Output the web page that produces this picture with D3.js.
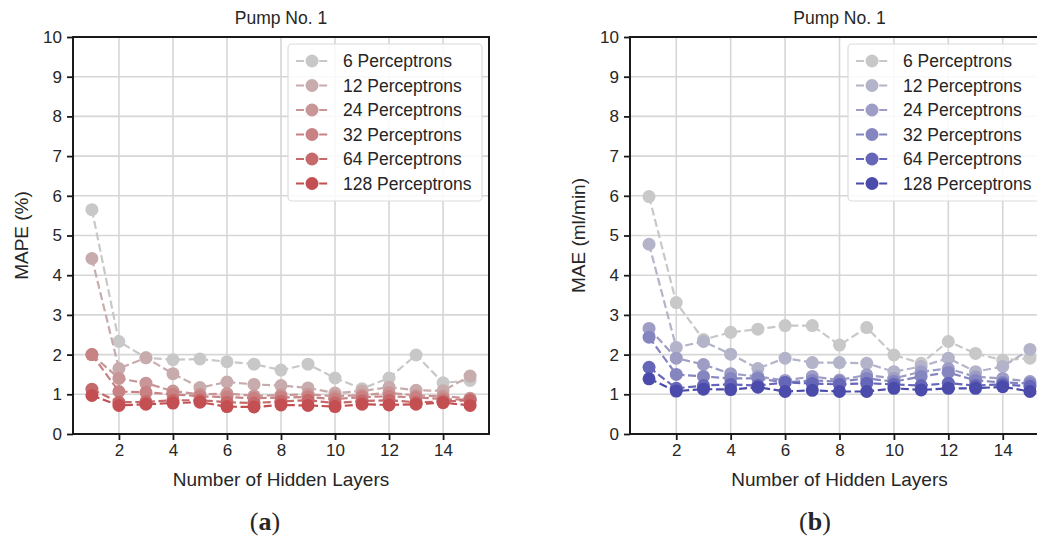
<!DOCTYPE html>
<html>
<head>
<meta charset="utf-8">
<script src="https://cdn.jsdelivr.net/npm/d3@7"></script>
<style>
  html, body { margin: 0; padding: 0; background: #fff; }
  svg { display: block; }
  text { font-family: "Liberation Sans", Arial, sans-serif; fill: #262626; }
</style>
</head>
<body>
<svg id="fig" width="1037" height="538"></svg>
<script>
// Hidden-layer counts on the x axis
const layers = [1, 2, 3, 4, 5, 6, 7, 8, 9, 10, 11, 12, 13, 14, 15];
const seriesNames = ["6 Perceptrons", "12 Perceptrons", "24 Perceptrons",
                     "32 Perceptrons", "64 Perceptrons", "128 Perceptrons"];
const xTicks = [2, 4, 6, 8, 10, 12, 14];
const yTicks = [0, 1, 2, 3, 4, 5, 6, 7, 8, 9, 10];

// MAPE (%) per perceptron count
const mape6   = [5.65, 2.33, 1.92, 1.87, 1.89, 1.82, 1.76, 1.61, 1.76, 1.41, 1.14, 1.41, 1.99, 1.29, 1.35];
const mape12  = [4.42, 1.65, 1.92, 1.52, 1.17, 1.31, 1.25, 1.22, 1.16, 1.03, 1.08, 1.18, 1.10, 1.09, 1.46];
const mape24  = [2.00, 1.40, 1.28, 1.08, 1.00, 1.02, 0.96, 0.98, 1.00, 0.95, 0.98, 1.04, 0.97, 0.95, 0.90];
const mape32  = [2.00, 1.07, 1.05, 1.00, 0.95, 0.93, 0.90, 0.92, 0.93, 0.88, 0.93, 0.95, 0.92, 0.88, 0.86];
const mape64  = [1.13, 0.80, 0.81, 0.85, 0.85, 0.80, 0.78, 0.82, 0.85, 0.78, 0.83, 0.85, 0.80, 0.82, 0.85];
const mape128 = [0.97, 0.72, 0.75, 0.78, 0.80, 0.69, 0.68, 0.73, 0.72, 0.69, 0.75, 0.73, 0.75, 0.79, 0.72];

// MAE (ml/min) per perceptron count
const mae6   = [5.98, 3.31, 2.38, 2.56, 2.64, 2.73, 2.73, 2.24, 2.68, 1.99, 1.78, 2.33, 2.03, 1.86, 1.91];
const mae12  = [4.78, 2.18, 2.33, 2.01, 1.65, 1.91, 1.80, 1.80, 1.78, 1.57, 1.70, 1.91, 1.57, 1.70, 2.13];
const mae24  = [2.66, 1.91, 1.75, 1.52, 1.45, 1.35, 1.45, 1.36, 1.49, 1.40, 1.57, 1.65, 1.44, 1.40, 1.32];
const mae32  = [2.44, 1.50, 1.45, 1.40, 1.40, 1.30, 1.35, 1.32, 1.40, 1.32, 1.45, 1.55, 1.35, 1.30, 1.27];
const mae64  = [1.68, 1.15, 1.22, 1.25, 1.22, 1.30, 1.27, 1.25, 1.28, 1.25, 1.22, 1.28, 1.22, 1.25, 1.20];
const mae128 = [1.39, 1.08, 1.13, 1.12, 1.18, 1.07, 1.10, 1.07, 1.07, 1.15, 1.11, 1.15, 1.15, 1.19, 1.07];

const redColors  = ["#c8c8c8", "#c8abac", "#c99697", "#c98283", "#c6696b", "#c44f53"];
const blueColors = ["#c8c8c8", "#b3b3c9", "#9d9dc5", "#8585c0", "#6666b8", "#4b4bab"];

const svg = d3.select("#fig");

function panel(cfg) {
  const x = d3.scaleLinear().domain([0.3, 15.7]).range([cfg.left, cfg.right]);
  const y = d3.scaleLinear().domain([0, 10]).range([434, 37]);
  const g = svg.append("g");

  // grid
  g.append("g").selectAll("line").data(xTicks).join("line")
    .attr("x1", d => x(d)).attr("x2", d => x(d))
    .attr("y1", y(0)).attr("y2", y(10))
    .attr("stroke", "#d6d6d6").attr("stroke-width", 1.6);
  g.append("g").selectAll("line").data(yTicks).join("line")
    .attr("x1", cfg.left).attr("x2", cfg.right)
    .attr("y1", d => y(d)).attr("y2", d => y(d))
    .attr("stroke", "#d6d6d6").attr("stroke-width", 1.6);

  // series
  const line = d3.line().x((d, i) => x(layers[i])).y(d => y(d));
  cfg.series.forEach((vals, k) => {
    const s = g.append("g");
    s.append("path").datum(vals).attr("d", line)
      .attr("fill", "none").attr("stroke", cfg.colors[k])
      .attr("stroke-width", 2.2).attr("stroke-dasharray", "8,3.6");
    s.selectAll("circle").data(vals).join("circle")
      .attr("cx", (d, i) => x(layers[i])).attr("cy", d => y(d))
      .attr("r", 6.5).attr("fill", cfg.colors[k]);
  });

  // spines
  g.append("rect").attr("x", cfg.left).attr("y", y(10))
    .attr("width", cfg.right - cfg.left).attr("height", y(0) - y(10))
    .attr("fill", "none").attr("stroke", "#1a1a1a").attr("stroke-width", 2);

  // axes
  const xAxis = d3.axisBottom(x).tickValues(xTicks).tickSize(6).tickPadding(4);
  const gx = g.append("g").attr("transform", `translate(0,${y(0)})`).call(xAxis);
  const yAxis = d3.axisLeft(y).tickValues(yTicks).tickSize(6).tickPadding(5);
  const gy = g.append("g").attr("transform", `translate(${cfg.left},0)`).call(yAxis);
  [gx, gy].forEach(a => {
    a.select(".domain").remove();
    a.selectAll(".tick line").attr("stroke", "#1a1a1a").attr("stroke-width", 1.8);
    a.selectAll(".tick text").attr("font-size", 17).attr("fill", "#333")
      .attr("font-family", "Liberation Sans, Arial, sans-serif");
  });

  const cx = (cfg.left + cfg.right) / 2;
  g.append("text").attr("x", cx).attr("y", 24).attr("text-anchor", "middle")
    .attr("font-size", 17.5).text(cfg.title);
  g.append("text").attr("x", cx).attr("y", 486).attr("text-anchor", "middle")
    .attr("font-size", 19).text("Number of Hidden Layers");
  g.append("text").attr("transform", `translate(${cfg.left - 45},${(y(0) + y(10)) / 2}) rotate(-90)`)
    .attr("text-anchor", "middle").attr("font-size", 19).text(cfg.ylabel);

  // legend
  const lg = g.append("g");
  const lx = cfg.right - 201, ly = 44;
  lg.append("rect").attr("x", lx).attr("y", ly).attr("width", 194).attr("height", 157)
    .attr("rx", 4).attr("fill", "rgba(255,255,255,0.85)")
    .attr("stroke", "#dcdcdc").attr("stroke-width", 1.2);
  seriesNames.forEach((name, k) => {
    const yy = ly + 17 + k * 24.5;
    lg.append("line").attr("x1", lx + 8).attr("x2", lx + 40)
      .attr("y1", yy).attr("y2", yy).attr("stroke", cfg.colors[k])
      .attr("stroke-width", 2.2).attr("stroke-dasharray", "8,3.6");
    lg.append("circle").attr("cx", lx + 24).attr("cy", yy).attr("r", 6.5)
      .attr("fill", cfg.colors[k]);
    lg.append("text").attr("x", lx + 55).attr("y", yy + 6)
      .attr("font-size", 17.5).text(name);
  });

  // panel caption
  const cap = svg.append("text").attr("x", cfg.capX).attr("y", 530)
    .attr("text-anchor", "middle").attr("font-size", 26)
    .style("font-family", "'Liberation Serif', 'DejaVu Serif', serif");
  cap.append("tspan").text("(");
  cap.append("tspan").attr("font-weight", "bold").text(cfg.cap);
  cap.append("tspan").text(")");
}

panel({
  left: 73, right: 489, title: "Pump No. 1", ylabel: "MAPE (%)",
  series: [mape6, mape12, mape24, mape32, mape64, mape128],
  colors: redColors, capX: 265, cap: "a"
});
panel({
  left: 630, right: 1049, title: "Pump No. 1", ylabel: "MAE (ml/min)",
  series: [mae6, mae12, mae24, mae32, mae64, mae128],
  colors: blueColors, capX: 815, cap: "b"
});
</script>
</body>
</html>
